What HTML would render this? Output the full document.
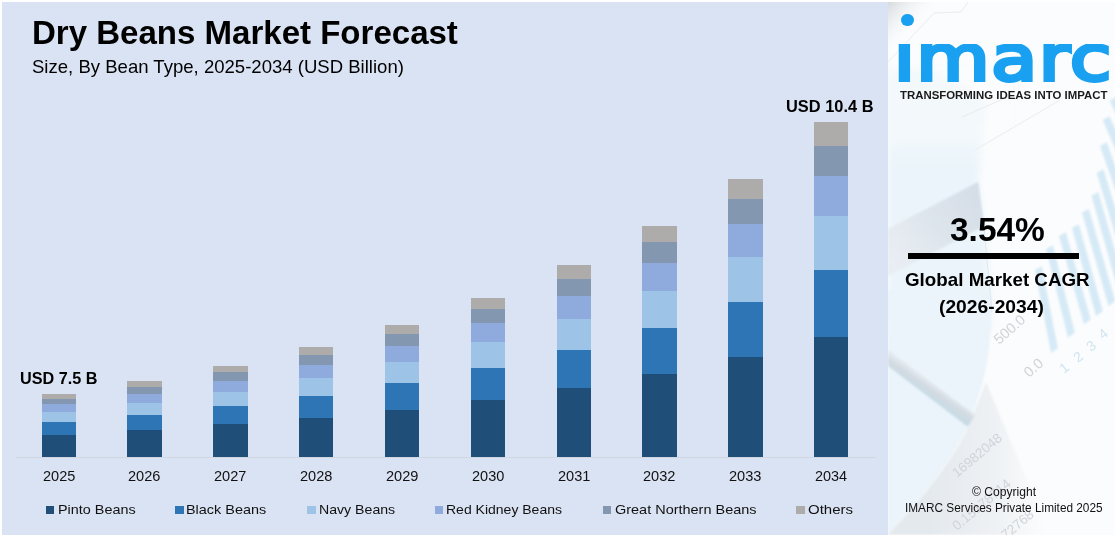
<!DOCTYPE html>
<html lang="en"><head><meta charset="utf-8"><title>Dry Beans Market Forecast</title>
<style>
html,body{margin:0;padding:0;background:#fff;}
body{width:1115px;height:536px;position:relative;overflow:hidden;font-family:"Liberation Sans",sans-serif;color:#000;}
.abs{position:absolute;}
#left{left:2px;top:2px;width:886px;height:532.7px;background:#dae3f3;}
#right{left:888px;top:2px;width:227px;height:532.7px;background:#fbfdfe;overflow:hidden;}
.t{position:absolute;white-space:nowrap;line-height:1;transform-origin:0 0;}
.seg{position:absolute;}
.sq{position:absolute;height:8px;top:506px;}
</style></head><body>
<div id="left" class="abs"></div>
<div id="right" class="abs">

<svg width="227" height="533" viewBox="888 2 227 533" style="position:absolute;left:0;top:0">
<defs>
<filter id="b1" x="-20%" y="-20%" width="140%" height="140%"><feGaussianBlur stdDeviation="1.2"/></filter>
<filter id="b3" x="-20%" y="-20%" width="140%" height="140%"><feGaussianBlur stdDeviation="4"/></filter>
<filter id="b8" x="-30%" y="-30%" width="160%" height="160%"><feGaussianBlur stdDeviation="10"/></filter>
<linearGradient id="gfold" gradientUnits="userSpaceOnUse" x1="980" y1="195" x2="890" y2="262"><stop offset="0" stop-color="#d5dde6"/><stop offset="0.55" stop-color="#dfe6ed"/><stop offset="1" stop-color="#e9eef4"/></linearGradient>
<linearGradient id="gpaper" gradientUnits="userSpaceOnUse" x1="930" y1="470" x2="1045" y2="470"><stop offset="0" stop-color="#e4e9ee"/><stop offset="0.55" stop-color="#eef1f4"/><stop offset="1" stop-color="#fbfcfd"/></linearGradient>
<linearGradient id="gcorner" gradientUnits="userSpaceOnUse" x1="888" y1="2" x2="915" y2="28"><stop offset="0" stop-color="#d6dade"/><stop offset="1" stop-color="#f6f8f9" stop-opacity="0"/></linearGradient>
<linearGradient id="grod" gradientUnits="userSpaceOnUse" x1="930" y1="382" x2="923" y2="392"><stop offset="0" stop-color="#e2e8ee"/><stop offset="0.5" stop-color="#d2dae1"/><stop offset="1" stop-color="#c9dbe6"/></linearGradient>
</defs>
<rect x="888" y="2" width="227" height="533" fill="#fbfcfd"/>
<path d="M888 70 L930 70 L985 100 L978 182 L984 230 L991 300 L991 330 L888 330 Z" fill="#eaf4fa" filter="url(#b3)"/>
<path d="M888 290 L990 290 Q993 340 984 377 Q978 400 970 420 Q950 470 889 533 L888 535 Z" fill="#eaf4fa" filter="url(#b1)"/>
<rect x="880" y="60" width="140" height="90" fill="#fbfcfd" opacity="0.55" filter="url(#b8)"/>
<path d="M888 62 L934 13 L961 12 L968 2 M962 117 L1010 96 M975 150 L1060 100" stroke="#eaecee" stroke-width="1" fill="none"/>
<path d="M888 2 L940 2 L888 50 Z" fill="url(#gcorner)"/>
<path d="M978 182 L984 226 L888 276 L888 229 Z" fill="url(#gfold)" filter="url(#b1)"/>
<path d="M1051.0 353.0 L1035.0 270.0 L1041.8 266.3 L1057.8 347.9 Z M1068.0 337.5 L1046.0 249.0 L1052.8 245.3 L1074.8 332.4 Z M1084.0 324.5 L1059.0 236.0 L1065.8 232.3 L1090.8 319.4 Z M1096.0 316.0 L1072.0 228.0 L1078.8 224.3 L1102.8 310.9 Z M1108.5 306.0 L1082.0 212.6 L1088.8 208.9 L1115.3 300.9 Z M1118.0 290.0 L1091.5 195.7 L1098.3 192.0 L1124.8 284.9 Z M1124.0 264.0 L1096.7 173.0 L1103.5 169.3 L1130.8 258.9 Z M1130.0 232.0 L1100.0 146.0 L1106.8 142.3 L1136.8 226.9 Z M1133.0 190.0 L1102.7 120.0 L1109.5 116.3 L1139.8 184.9 Z M1136.0 160.0 L1109.8 100.4 L1116.6 96.7 L1142.8 154.9 Z" fill="#d5eaf6" filter="url(#b1)"/>
<path d="M978 183 L984 228 L992 312" stroke="#dce7ef" stroke-width="1" fill="none"/>
<path d="M986 382 L970 422 Q950 470 889 533 L888 535 L1050 535 Z" fill="url(#gpaper)" filter="url(#b1)"/>
<path d="M888 350 L975 415 L968 427 L888 366 Z" fill="url(#grod)" filter="url(#b1)"/>
<g font-family="Liberation Sans, sans-serif" fill="#d0d4da" font-size="13.5">
<text transform="translate(999 345) rotate(-41)" font-size="14.5">500.0</text>
<text transform="translate(1029 378) rotate(-41)" font-size="14.5">0.0</text>
<text transform="translate(957 478) rotate(-40)">16982048</text>
<text transform="translate(957 531) rotate(-40)">0.15178714</text>
<text transform="translate(1006 540) rotate(-40)">72768</text>
</g>
<g font-family="Liberation Sans, sans-serif" fill="#d0e5f0" font-size="14">
<text transform="translate(1064 374) rotate(-38)">1</text>
<text transform="translate(1078 363) rotate(-38)">2</text>
<text transform="translate(1091 352) rotate(-38)">3</text>
<text transform="translate(1103 340) rotate(-38)">4</text>
</g>
</svg>
</div>
<div class="abs" style="left:16px;top:456.5px;width:860px;height:1px;background:#d1d7e0;"></div>
<div class="seg" style="left:42px;width:34px;top:394px;height:5px;background:#aeabab"></div>
<div class="seg" style="left:42px;width:34px;top:399px;height:5px;background:#8497b0"></div>
<div class="seg" style="left:42px;width:34px;top:404px;height:8px;background:#8faadc"></div>
<div class="seg" style="left:42px;width:34px;top:412px;height:10px;background:#9dc3e6"></div>
<div class="seg" style="left:42px;width:34px;top:422px;height:13px;background:#2e75b6"></div>
<div class="seg" style="left:42px;width:34px;top:435px;height:22px;background:#1f4e79"></div>
<div class="seg" style="left:127px;width:35px;top:381px;height:6px;background:#aeabab"></div>
<div class="seg" style="left:127px;width:35px;top:387px;height:7px;background:#8497b0"></div>
<div class="seg" style="left:127px;width:35px;top:394px;height:9px;background:#8faadc"></div>
<div class="seg" style="left:127px;width:35px;top:403px;height:12px;background:#9dc3e6"></div>
<div class="seg" style="left:127px;width:35px;top:415px;height:15px;background:#2e75b6"></div>
<div class="seg" style="left:127px;width:35px;top:430px;height:27px;background:#1f4e79"></div>
<div class="seg" style="left:213px;width:35px;top:366px;height:6px;background:#aeabab"></div>
<div class="seg" style="left:213px;width:35px;top:372px;height:9px;background:#8497b0"></div>
<div class="seg" style="left:213px;width:35px;top:381px;height:11px;background:#8faadc"></div>
<div class="seg" style="left:213px;width:35px;top:392px;height:14px;background:#9dc3e6"></div>
<div class="seg" style="left:213px;width:35px;top:406px;height:18px;background:#2e75b6"></div>
<div class="seg" style="left:213px;width:35px;top:424px;height:33px;background:#1f4e79"></div>
<div class="seg" style="left:299px;width:34px;top:347px;height:8px;background:#aeabab"></div>
<div class="seg" style="left:299px;width:34px;top:355px;height:10px;background:#8497b0"></div>
<div class="seg" style="left:299px;width:34px;top:365px;height:13px;background:#8faadc"></div>
<div class="seg" style="left:299px;width:34px;top:378px;height:18px;background:#9dc3e6"></div>
<div class="seg" style="left:299px;width:34px;top:396px;height:22px;background:#2e75b6"></div>
<div class="seg" style="left:299px;width:34px;top:418px;height:39px;background:#1f4e79"></div>
<div class="seg" style="left:385px;width:34px;top:325px;height:9px;background:#aeabab"></div>
<div class="seg" style="left:385px;width:34px;top:334px;height:12px;background:#8497b0"></div>
<div class="seg" style="left:385px;width:34px;top:346px;height:16px;background:#8faadc"></div>
<div class="seg" style="left:385px;width:34px;top:362px;height:21px;background:#9dc3e6"></div>
<div class="seg" style="left:385px;width:34px;top:383px;height:27px;background:#2e75b6"></div>
<div class="seg" style="left:385px;width:34px;top:410px;height:47px;background:#1f4e79"></div>
<div class="seg" style="left:471px;width:34px;top:298px;height:11px;background:#aeabab"></div>
<div class="seg" style="left:471px;width:34px;top:309px;height:14px;background:#8497b0"></div>
<div class="seg" style="left:471px;width:34px;top:323px;height:19px;background:#8faadc"></div>
<div class="seg" style="left:471px;width:34px;top:342px;height:26px;background:#9dc3e6"></div>
<div class="seg" style="left:471px;width:34px;top:368px;height:32px;background:#2e75b6"></div>
<div class="seg" style="left:471px;width:34px;top:400px;height:57px;background:#1f4e79"></div>
<div class="seg" style="left:557px;width:34px;top:265px;height:14px;background:#aeabab"></div>
<div class="seg" style="left:557px;width:34px;top:279px;height:17px;background:#8497b0"></div>
<div class="seg" style="left:557px;width:34px;top:296px;height:23px;background:#8faadc"></div>
<div class="seg" style="left:557px;width:34px;top:319px;height:31px;background:#9dc3e6"></div>
<div class="seg" style="left:557px;width:34px;top:350px;height:38px;background:#2e75b6"></div>
<div class="seg" style="left:557px;width:34px;top:388px;height:69px;background:#1f4e79"></div>
<div class="seg" style="left:642px;width:35px;top:226px;height:16px;background:#aeabab"></div>
<div class="seg" style="left:642px;width:35px;top:242px;height:21px;background:#8497b0"></div>
<div class="seg" style="left:642px;width:35px;top:263px;height:28px;background:#8faadc"></div>
<div class="seg" style="left:642px;width:35px;top:291px;height:37px;background:#9dc3e6"></div>
<div class="seg" style="left:642px;width:35px;top:328px;height:46px;background:#2e75b6"></div>
<div class="seg" style="left:642px;width:35px;top:374px;height:83px;background:#1f4e79"></div>
<div class="seg" style="left:728px;width:35px;top:179px;height:20px;background:#aeabab"></div>
<div class="seg" style="left:728px;width:35px;top:199px;height:25px;background:#8497b0"></div>
<div class="seg" style="left:728px;width:35px;top:224px;height:33px;background:#8faadc"></div>
<div class="seg" style="left:728px;width:35px;top:257px;height:45px;background:#9dc3e6"></div>
<div class="seg" style="left:728px;width:35px;top:302px;height:55px;background:#2e75b6"></div>
<div class="seg" style="left:728px;width:35px;top:357px;height:100px;background:#1f4e79"></div>
<div class="seg" style="left:814px;width:34px;top:122px;height:24px;background:#aeabab"></div>
<div class="seg" style="left:814px;width:34px;top:146px;height:30px;background:#8497b0"></div>
<div class="seg" style="left:814px;width:34px;top:176px;height:40px;background:#8faadc"></div>
<div class="seg" style="left:814px;width:34px;top:216px;height:54px;background:#9dc3e6"></div>
<div class="seg" style="left:814px;width:34px;top:270px;height:67px;background:#2e75b6"></div>
<div class="seg" style="left:814px;width:34px;top:337px;height:120px;background:#1f4e79"></div>
<div class="sq" style="left:46px;width:8px;background:#1f4e79"></div>
<div class="sq" style="left:175px;width:9px;background:#2e75b6"></div>
<div class="sq" style="left:307px;width:9px;background:#9dc3e6"></div>
<div class="sq" style="left:435px;width:8px;background:#8faadc"></div>
<div class="sq" style="left:603px;width:8px;background:#8497b0"></div>
<div class="sq" style="left:796px;width:9px;background:#aeabab"></div>
<div class="t" id="title" style="left:31.88px;top:15.70px;font-size:33.3px;font-weight:bold;transform:scaleX(0.9919);">Dry Beans Market Forecast</div>
<div class="t" id="sub" style="left:31.83px;top:58.08px;font-size:18.5px;transform:scaleX(1.0028);">Size, By Bean Type, 2025-2034 (USD Billion)</div>
<div class="t" id="v1" style="left:19.71px;top:371.36px;font-size:16.9px;font-weight:bold;transform:scaleX(0.9601);">USD 7.5 B</div>
<div class="t" id="v2" style="left:785.67px;top:98.64px;font-size:16.9px;font-weight:bold;transform:scaleX(0.9706);">USD 10.4 B</div>
<div class="t" id="tag" style="left:900.00px;top:89.70px;font-size:10.7px;font-weight:bold;color:#1a1a1a;transform:scaleX(1.0669);">TRANSFORMING IDEAS INTO IMPACT</div>
<div class="t" id="pct" style="left:950.24px;top:212.75px;font-size:33px;font-weight:bold;transform:scaleX(1.0137);">3.54%</div>
<div class="t" id="g1t" style="left:905.36px;top:272.42px;font-size:17.8px;font-weight:bold;transform:scaleX(1.0559);">Global Market CAGR</div>
<div class="t" id="g2t" style="left:938.87px;top:299.42px;font-size:17.8px;font-weight:bold;transform:scaleX(1.0823);">(2026-2034)</div>
<div class="t" id="c1" style="left:971.76px;top:485.50px;font-size:12.0px;color:#111;transform:scaleX(1.0088);">© Copyright</div>
<div class="t" id="c2" style="left:905.21px;top:502.24px;font-size:12.6px;color:#111;transform:scaleX(0.9378);">IMARC Services Private Limited 2025</div>
<div class="t" id="y0" style="left:42.86px;top:468.52px;font-size:14.8px;color:#111;transform:scaleX(0.9825);">2025</div>
<div class="t" id="y1" style="left:128.10px;top:468.52px;font-size:14.8px;color:#111;transform:scaleX(0.9844);">2026</div>
<div class="t" id="y2" style="left:214.10px;top:468.52px;font-size:14.8px;color:#111;transform:scaleX(0.9850);">2027</div>
<div class="t" id="y3" style="left:299.86px;top:468.52px;font-size:14.8px;color:#111;transform:scaleX(0.9838);">2028</div>
<div class="t" id="y4" style="left:385.85px;top:468.52px;font-size:14.8px;color:#111;transform:scaleX(0.9847);">2029</div>
<div class="t" id="y5" style="left:471.86px;top:468.52px;font-size:14.8px;color:#111;transform:scaleX(0.9813);">2030</div>
<div class="t" id="y6" style="left:557.85px;top:468.52px;font-size:14.8px;color:#111;transform:scaleX(0.9844);">2031</div>
<div class="t" id="y7" style="left:643.10px;top:468.52px;font-size:14.8px;color:#111;transform:scaleX(0.9850);">2032</div>
<div class="t" id="y8" style="left:729.10px;top:468.52px;font-size:14.8px;color:#111;transform:scaleX(0.9855);">2033</div>
<div class="t" id="y9" style="left:814.88px;top:468.52px;font-size:14.8px;color:#111;transform:scaleX(0.9756);">2034</div>
<div class="t" id="l0" style="left:57.50px;top:502.55px;font-size:13.0px;color:#111;transform:scaleX(1.1069);">Pinto Beans</div>
<div class="t" id="l1" style="left:186.12px;top:502.55px;font-size:13.0px;color:#111;transform:scaleX(1.1100);">Black Beans</div>
<div class="t" id="l2" style="left:318.60px;top:502.55px;font-size:13.0px;color:#111;transform:scaleX(1.0864);">Navy Beans</div>
<div class="t" id="l3" style="left:446.31px;top:502.55px;font-size:13.0px;color:#111;transform:scaleX(1.0771);">Red Kidney Beans</div>
<div class="t" id="l4" style="left:614.70px;top:502.55px;font-size:13.0px;color:#111;transform:scaleX(1.1128);">Great Northern Beans</div>
<div class="t" id="l5" style="left:807.51px;top:502.55px;font-size:13.0px;color:#111;transform:scaleX(1.1519);">Others</div>
<div class="abs" id="dot" style="left:901.2px;top:13.7px;width:12.4px;height:12.4px;border-radius:50%;background:#1aa0f1;"></div>
<div class="t" id="logo" style="left:893.74px;top:28.3px;font-family:'DejaVu Sans','Liberation Sans',sans-serif;font-size:62px;letter-spacing:1.5px;color:#1aa0f1;-webkit-text-stroke:3.8px #1aa0f1;clip-path:inset(15.6px -5px -5px -5px);transform:scaleX(1.2073);">imarc</div>
<div class="abs" style="left:908px;top:253px;width:171px;height:6px;background:#000;"></div>
</body></html>
